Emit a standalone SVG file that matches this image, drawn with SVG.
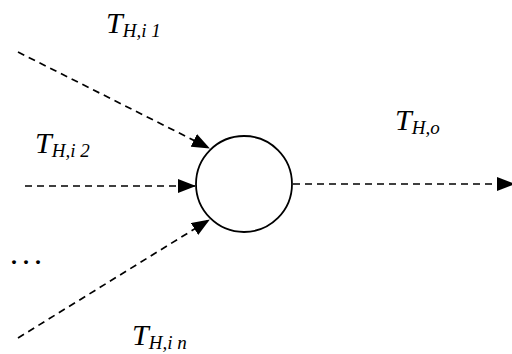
<svg xmlns="http://www.w3.org/2000/svg" width="512" height="354" viewBox="0 0 512 354">
<style>
.c{fill:none;stroke:#000;stroke-width:1.7;stroke-dasharray:7,5}
.t{font-family:"Liberation Serif",serif;font-style:italic;fill:#000}
.m{font-size:30px}
.s{font-size:19px}
</style>
<defs>
<marker id="a2" markerWidth="18" markerHeight="14" refX="17" refY="7" orient="auto" markerUnits="userSpaceOnUse" viewBox="0 0 18 14"><path d="M0,0 L18,7 L0,14 z" fill="#000"/></marker>
</defs>
<rect width="512" height="354" fill="#fff"/>
<g id="connectors">
<line class="c" x1="18" y1="52" x2="209" y2="148" marker-end="url(#a2)"/>
<line class="c" x1="25" y1="186" x2="195" y2="186" marker-end="url(#a2)"/>
<line class="c" x1="18" y1="338" x2="209" y2="220" marker-end="url(#a2)"/>
<line class="c" x1="293" y1="184" x2="514" y2="184" marker-end="url(#a2)"/>
</g>
<g id="node">
<circle cx="244" cy="184" r="48" fill="none" stroke="#000" stroke-width="1.8"/>
</g>
<g id="labels">
<text class="t" x="106" y="33"><tspan class="m">T</tspan><tspan class="s" dy="4">H,i 1</tspan></text>
<text class="t" x="35" y="153"><tspan class="m">T</tspan><tspan class="s" dy="4">H,i 2</tspan></text>
<text class="t" x="395" y="130"><tspan class="m">T</tspan><tspan class="s" dy="4">H,o</tspan></text>
<text class="t" x="132" y="345"><tspan class="m">T</tspan><tspan class="s" dy="4">H,i n</tspan></text>
<text x="11" y="264" font-family="'Liberation Serif',serif" font-size="24" font-weight="bold" letter-spacing="6">...</text>
</g>
</svg>
